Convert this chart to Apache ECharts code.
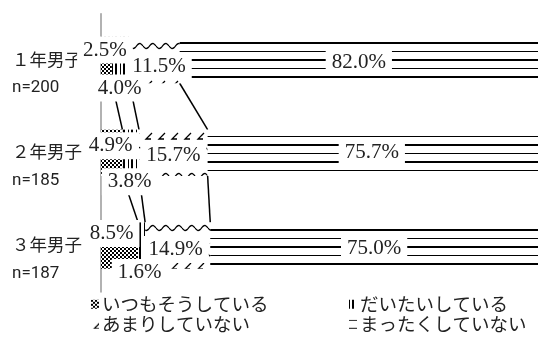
<!DOCTYPE html>
<html lang="ja">
<head>
    <meta charset="UTF-8">
    <title>学年別 男子</title>
    <script src="https://cdn.jsdelivr.net/npm/echarts@6.0.0/dist/echarts.min.js"></script>
    <style>
        body { margin: 0; background: #fff; }
        #chart { width: 538px; height: 347px; }
    </style>
</head>
<body>
    <div id="chart"></div>
    <script>
        // データ
        const categories = ['１年男子', '２年男子', '３年男子'];
        const sampleSizes = ['n=200', 'n=185', 'n=187'];
        const seriesNames = ['いつもそうしている', 'だいたいしている', 'あまりしていない', 'まったくしていない'];
        const always = [2.5, 4.9, 8.5];
        const mostly = [4.0, 3.8, 1.6];
        const rarely = [11.5, 15.7, 14.9];
        const never = [82.0, 75.7, 75.0];

        // ラベルの位置調整（見た目用）
        const labelOffsets = [
            [[-1.5, -10], [-1, -7], [-8, -12]],
            [[-1, 28], [-1, 29], [-2, 27]],
            [[4.5, 6], [0, 3], [-2, 4]],
            [[0, 2], [-1, 0], [0, 3]]
        ];

        const barRatio = 0.5;

        // パターン
        function makeTile(w, h, draw) {
            const c = document.createElement('canvas');
            c.width = w; c.height = h;
            const ctx = c.getContext('2d');
            ctx.fillStyle = '#fff';
            ctx.fillRect(0, 0, w, h);
            ctx.fillStyle = '#000';
            ctx.strokeStyle = '#000';
            draw(ctx);
            return { image: c, repeat: 'repeat' };
        }
        const patAlways = makeTile(4, 4, ctx => {
            ctx.fillRect(0, 0, 2, 2);
            ctx.fillRect(2, 2, 2, 2);
        });
        const patMostly = makeTile(8, 8, ctx => {
            ctx.fillRect(0, 0, 1, 8);
            ctx.fillRect(3, 0, 2, 8);
        });
        const patRarely = makeTile(13, 26, ctx => {
            ctx.lineWidth = 1.3;
            ctx.beginPath();
            ctx.moveTo(9, 3); ctx.lineTo(3, 9); ctx.lineTo(8, 9);
            ctx.stroke();
            ctx.beginPath();
            for (let x = 0; x <= 13; x++) {
                const y = 20 + 2.5 * Math.sin(2 * Math.PI * x / 13);
                if (x === 0) ctx.moveTo(x, y); else ctx.lineTo(x, y);
            }
            ctx.stroke();
        });
        const patNever = makeTile(4, 17, ctx => {
            ctx.fillRect(0, 0, 4, 1);
            ctx.fillRect(0, 8, 4, 2);
        });
        const patterns = [patAlways, patMostly, patRarely, patNever];
        const values = [always, mostly, rarely, never];

        // 区切り線（系列線）
        const connectorData = [];
        for (let i = 0; i < categories.length - 1; i++) {
            const a = [always[i], always[i] + mostly[i], always[i] + mostly[i] + rarely[i]];
            const b = [always[i + 1], always[i + 1] + mostly[i + 1], always[i + 1] + mostly[i + 1] + rarely[i + 1]];
            connectorData.push([i].concat(a, b));
        }

        const chart = echarts.init(document.getElementById('chart'));

        const labelFont = {
            fontFamily: '"Liberation Serif", serif',
            fontSize: 21,
            color: '#222',
            backgroundColor: '#fff',
            padding: [4, 6, 2, 6]
        };

        const barSeries = seriesNames.map((name, s) => ({
            name: name,
            type: 'bar',
            stack: 'total',
            barWidth: (barRatio * 100) + '%',
            z: 2,
            itemStyle: { color: patterns[s] },
            label: Object.assign({
                show: true,
                position: 'inside',
                formatter: p => p.value.toFixed(1) + '%'
            }, labelFont),
            data: values[s].map((v, i) => ({ value: v, label: { offset: labelOffsets[s][i] } }))
        }));

        const legendPos = [[91, 295], [349, 295], [91, 315], [349, 315]];

        const option = {
            animation: false,
            grid: { left: 101, right: 0, top: 8, bottom: 55 },
            xAxis: { type: 'value', min: 0, max: 100, show: false },
            yAxis: {
                type: 'category',
                inverse: true,
                data: categories,
                axisLine: { lineStyle: { color: '#999', width: 1.5 } },
                axisTick: { show: false },
                axisLabel: {
                    interval: 0,
                    align: 'left',
                    margin: 89,
                    formatter: (v, i) => '{s| }\n{a|' + v + '}\n{n|' + sampleSizes[i] + '}\n{t| }',
                    rich: {
                        s: { fontSize: 10, lineHeight: 81 },
                        a: { fontFamily: 'Noto Sans CJK JP', fontSize: 17.5, lineHeight: 29, color: '#222' },
                        n: { fontFamily: 'Roboto', fontSize: 17, lineHeight: 29, color: '#222' },
                        t: { fontSize: 10, lineHeight: 54 }
                    }
                }
            },
            legend: seriesNames.map((name, s) => ({
                data: [name],
                left: legendPos[s][0],
                top: legendPos[s][1],
                itemWidth: 8,
                itemHeight: 9,
                itemGap: 0,
                padding: 0,
                icon: 'rect',
                selectedMode: false,
                textStyle: { fontFamily: '"Noto Sans CJK JP"', fontSize: 18.5, color: '#222', padding: [0, 0, 0, -2] }
            })),
            series: barSeries.concat([{
                type: 'custom',
                z: 1,
                silent: true,
                encode: { x: [1, 2, 3, 4, 5, 6], y: 0 },
                data: connectorData,
                renderItem: function (params, api) {
                    const i = api.value(0);
                    const half = api.size([0, 1])[1] * barRatio / 2;
                    const children = [];
                    for (let k = 0; k < 3; k++) {
                        const p1 = api.coord([api.value(1 + k), i]);
                        const p2 = api.coord([api.value(4 + k), i + 1]);
                        children.push({
                            type: 'line',
                            shape: { x1: p1[0], y1: p1[1] + half, x2: p2[0], y2: p2[1] - half },
                            style: { stroke: '#000', lineWidth: 1.5 }
                        });
                    }
                    return { type: 'group', children: children };
                }
            }])
        };

        chart.setOption(option);
    </script>
</body>
</html>
